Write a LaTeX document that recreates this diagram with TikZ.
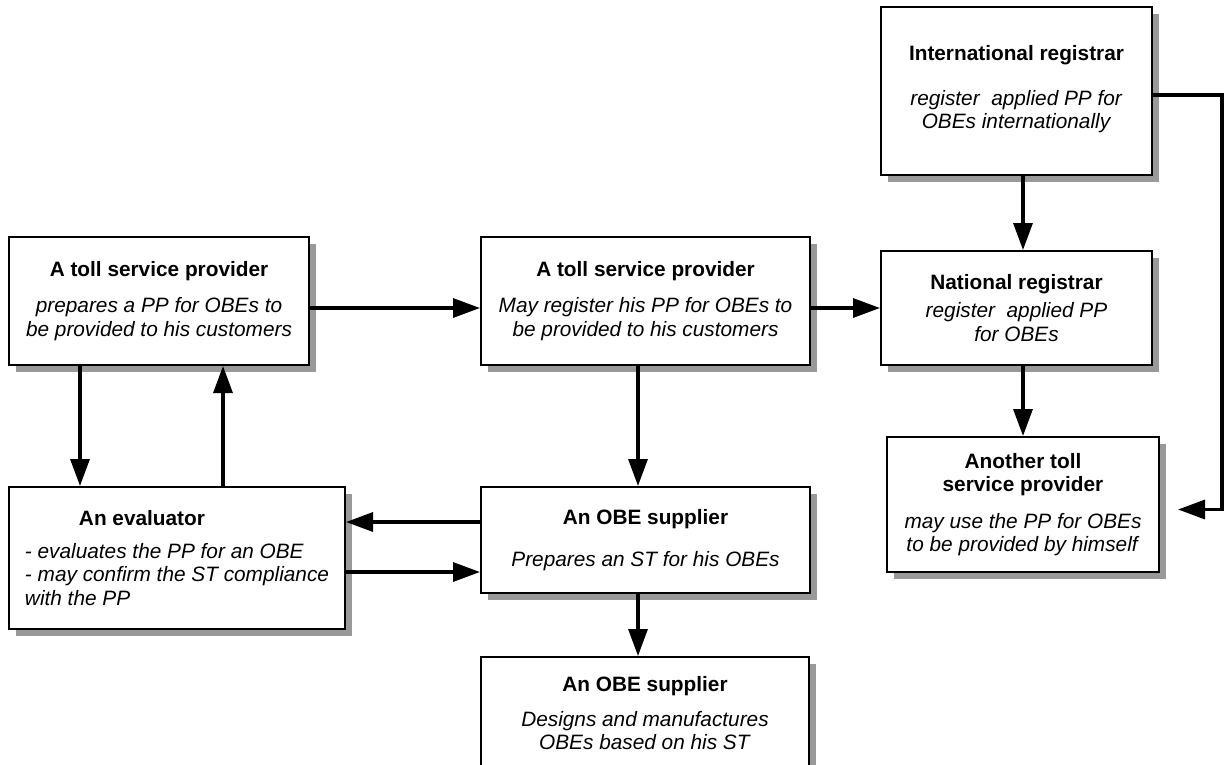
\documentclass[tikz,border=0pt]{standalone}
\usepackage{fontspec}
\setmainfont{Liberation Sans}
\usetikzlibrary{arrows.meta,shadows}
\begin{document}
\begin{tikzpicture}[x=1pt,y=-1pt,
    box/.style={draw, line width=2pt, fill=white, align=center, inner sep=0pt,
      font=\fontsize{20.8}{23.4}\selectfont,
      drop shadow={shadow xshift=7pt, shadow yshift=-7pt, fill=black!40, opacity=1}},
    arr/.style={line width=3.2pt, -{Triangle[length=27pt,width=19pt]}}]
\clip (0,0) rectangle (1224,764);
% boxes
\node[box, minimum width=300, minimum height=128] (tspa) at (159,301)
  {\textbf{A toll service provider}\\[13pt]\textit{prepares a PP for OBEs to}\\\textit{be provided to his customers}};
\node[box, minimum width=329, minimum height=128] (tspb) at (645.5,301)
  {\textbf{A toll service provider}\\[13pt]\textit{May register his PP for OBEs to}\\\textit{be provided to his customers}};
\node[box, minimum width=271, minimum height=168] (intreg) at (1016.5,91)
  {\textbf{International registrar}\\[21pt]\textit{register~ applied PP for}\\\textit{OBEs internationally}\\[-16pt]\mbox{}};
\node[box, minimum width=271, minimum height=114] (natreg) at (1016.5,308)
  {\textbf{National registrar}\\[5pt]\textit{register~ applied PP}\\\textit{for OBEs}};
\node[box, minimum width=272, minimum height=135] (another) at (1023,504.5)
  {\textbf{Another toll}\\\textbf{service provider}\\[13pt]\textit{may use the PP for OBEs}\\\textit{to be provided by himself}};
\node[box, align=left, minimum width=336, minimum height=142] (evaluator) at (177,558)
  {\hspace*{54pt}\textbf{An evaluator}\\[9pt]\textit{- evaluates the PP for an OBE}\\\textit{- may confirm the ST compliance}\\\textit{with the PP}};
\node[box, minimum width=329, minimum height=106] (obesup) at (645.5,540)
  {\textbf{An OBE supplier}\\[18pt]\textit{Prepares an ST for his OBEs}};
\node[box, minimum width=328, minimum height=112] (obemfr) at (645,713)
  {\textbf{An OBE supplier}\\[12pt]\textit{Designs and manufactures}\\\textit{OBEs based on his ST}};
% connectors
\draw[arr] ([yshift=-7pt]tspa.east) -- ([yshift=-7pt]tspa.east -| tspb.west);
\draw[arr] ([yshift=-7pt]tspb.east) -- (natreg.west);
\draw[arr] ([xshift=6.5pt]intreg.south) -- ([xshift=6.5pt]intreg.south |- natreg.north);
\draw[arr] ([xshift=6.5pt]natreg.south) -- (another.north);
\draw[arr] ([yshift=-4pt]intreg.east) -- ++(69,0) |- ([xshift=18pt,yshift=-5pt]another.east);
\draw[arr] ([xshift=-79pt]tspa.south) -- ([xshift=-79pt]tspa.south |- evaluator.north);
\draw[arr] ([xshift=64pt]tspa.south |- evaluator.north) -- ([xshift=64pt]tspa.south);
\draw[arr] ([xshift=-7.5pt]tspb.south) -- ([xshift=-7.5pt]tspb.south |- obesup.north);
\draw[arr] ([yshift=18pt]obesup.west) -- ([yshift=18pt]obesup.west -| evaluator.east);
\draw[arr] ([yshift=-14pt]evaluator.east) -- ([yshift=-14pt]evaluator.east -| obesup.west);
\draw[arr] ([xshift=-7.5pt]obesup.south) -- ([xshift=-7.5pt]obesup.south |- obemfr.north);
\end{tikzpicture}
\end{document}
